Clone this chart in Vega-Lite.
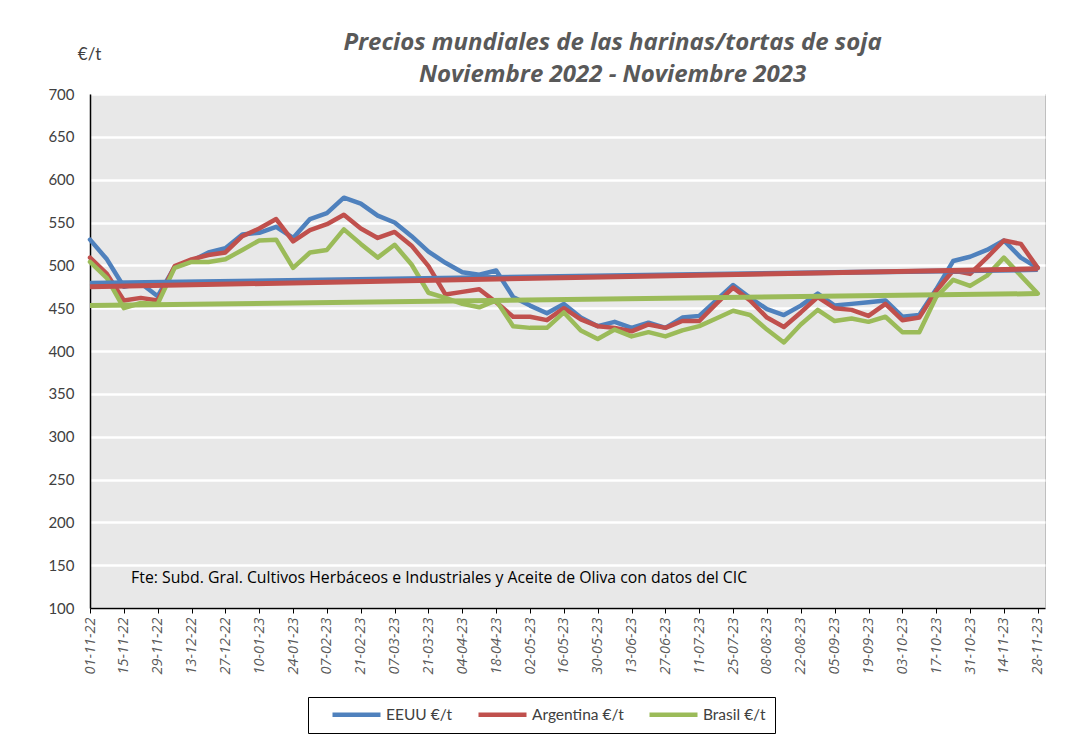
{
  "$schema": "https://vega.github.io/schema/vega-lite/v6.json",
  "width": 955,
  "height": 514,
  "autosize": {"type": "none"},
  "padding": {"left": 90, "top": 94, "right": 29, "bottom": 141},
  "background": "white",
  "config": {
    "font": "Lato",
    "view": {"fill": "#e8e8e8", "stroke": "#bfbfbf", "strokeWidth": 1}
  },
  "title": {
    "text": ["Precios mundiales de las harinas/tortas de soja", "Noviembre 2022 - Noviembre 2023"],
    "fontSize": 24,
    "fontStyle": "italic",
    "fontWeight": "bold",
    "color": "#595959",
    "font": "Open Sans",
    "lineHeight": 32,
    "anchor": "middle",
    "dx": 45,
    "dy": 50,
    "offset": 8
  },
  "datasets": {
    "precios": [
      {"d": "2022-11-01", "EEUU €/t": 530, "Argentina €/t": 509, "Brasil €/t": 504},
      {"d": "2022-11-08", "EEUU €/t": 507, "Argentina €/t": 490, "Brasil €/t": 485},
      {"d": "2022-11-15", "EEUU €/t": 475, "Argentina €/t": 459, "Brasil €/t": 450},
      {"d": "2022-11-22", "EEUU €/t": 479, "Argentina €/t": 462, "Brasil €/t": 456},
      {"d": "2022-11-29", "EEUU €/t": 464, "Argentina €/t": 459, "Brasil €/t": 455},
      {"d": "2022-12-06", "EEUU €/t": 498, "Argentina €/t": 499, "Brasil €/t": 497},
      {"d": "2022-12-13", "EEUU €/t": 505, "Argentina €/t": 507, "Brasil €/t": 504},
      {"d": "2022-12-20", "EEUU €/t": 515, "Argentina €/t": 512, "Brasil €/t": 504},
      {"d": "2022-12-27", "EEUU €/t": 520, "Argentina €/t": 515, "Brasil €/t": 507},
      {"d": "2023-01-03", "EEUU €/t": 536, "Argentina €/t": 534, "Brasil €/t": 518},
      {"d": "2023-01-10", "EEUU €/t": 538, "Argentina €/t": 543, "Brasil €/t": 529},
      {"d": "2023-01-17", "EEUU €/t": 545, "Argentina €/t": 554, "Brasil €/t": 530},
      {"d": "2023-01-24", "EEUU €/t": 532, "Argentina €/t": 528, "Brasil €/t": 497},
      {"d": "2023-01-31", "EEUU €/t": 554, "Argentina €/t": 541, "Brasil €/t": 515},
      {"d": "2023-02-07", "EEUU €/t": 561, "Argentina €/t": 548, "Brasil €/t": 518},
      {"d": "2023-02-14", "EEUU €/t": 579, "Argentina €/t": 559, "Brasil €/t": 542},
      {"d": "2023-02-21", "EEUU €/t": 572, "Argentina €/t": 543, "Brasil €/t": 525},
      {"d": "2023-02-28", "EEUU €/t": 558, "Argentina €/t": 532, "Brasil €/t": 509},
      {"d": "2023-03-07", "EEUU €/t": 550, "Argentina €/t": 539, "Brasil €/t": 524},
      {"d": "2023-03-14", "EEUU €/t": 534, "Argentina €/t": 523, "Brasil €/t": 501},
      {"d": "2023-03-21", "EEUU €/t": 516, "Argentina €/t": 499, "Brasil €/t": 468},
      {"d": "2023-03-28", "EEUU €/t": 503, "Argentina €/t": 466, "Brasil €/t": 462},
      {"d": "2023-04-04", "EEUU €/t": 492, "Argentina €/t": 469, "Brasil €/t": 455},
      {"d": "2023-04-11", "EEUU €/t": 489, "Argentina €/t": 472, "Brasil €/t": 451},
      {"d": "2023-04-18", "EEUU €/t": 494, "Argentina €/t": 457, "Brasil €/t": 459},
      {"d": "2023-04-25", "EEUU €/t": 463, "Argentina €/t": 440, "Brasil €/t": 429},
      {"d": "2023-05-02", "EEUU €/t": 453, "Argentina €/t": 440, "Brasil €/t": 427},
      {"d": "2023-05-09", "EEUU €/t": 444, "Argentina €/t": 436, "Brasil €/t": 427},
      {"d": "2023-05-16", "EEUU €/t": 455, "Argentina €/t": 450, "Brasil €/t": 445},
      {"d": "2023-05-23", "EEUU €/t": 439, "Argentina €/t": 437, "Brasil €/t": 424},
      {"d": "2023-05-30", "EEUU €/t": 429, "Argentina €/t": 429, "Brasil €/t": 414},
      {"d": "2023-06-06", "EEUU €/t": 434, "Argentina €/t": 427, "Brasil €/t": 425},
      {"d": "2023-06-13", "EEUU €/t": 427, "Argentina €/t": 423, "Brasil €/t": 417},
      {"d": "2023-06-20", "EEUU €/t": 433, "Argentina €/t": 431, "Brasil €/t": 422},
      {"d": "2023-06-27", "EEUU €/t": 427, "Argentina €/t": 427, "Brasil €/t": 417},
      {"d": "2023-07-04", "EEUU €/t": 439, "Argentina €/t": 435, "Brasil €/t": 424},
      {"d": "2023-07-11", "EEUU €/t": 441, "Argentina €/t": 435, "Brasil €/t": 429},
      {"d": "2023-07-18", "EEUU €/t": 459, "Argentina €/t": 455, "Brasil €/t": 438},
      {"d": "2023-07-25", "EEUU €/t": 477, "Argentina €/t": 474, "Brasil €/t": 447},
      {"d": "2023-08-01", "EEUU €/t": 462, "Argentina €/t": 459, "Brasil €/t": 442},
      {"d": "2023-08-08", "EEUU €/t": 449, "Argentina €/t": 439, "Brasil €/t": 425},
      {"d": "2023-08-15", "EEUU €/t": 442, "Argentina €/t": 428, "Brasil €/t": 410},
      {"d": "2023-08-22", "EEUU €/t": 453, "Argentina €/t": 445, "Brasil €/t": 431},
      {"d": "2023-08-29", "EEUU €/t": 467, "Argentina €/t": 463, "Brasil €/t": 448},
      {"d": "2023-09-05", "EEUU €/t": 453, "Argentina €/t": 450, "Brasil €/t": 435},
      {"d": "2023-09-12", "EEUU €/t": 455, "Argentina €/t": 448, "Brasil €/t": 438},
      {"d": "2023-09-19", "EEUU €/t": 457, "Argentina €/t": 441, "Brasil €/t": 434},
      {"d": "2023-09-26", "EEUU €/t": 459, "Argentina €/t": 455, "Brasil €/t": 440},
      {"d": "2023-10-03", "EEUU €/t": 440, "Argentina €/t": 436, "Brasil €/t": 422},
      {"d": "2023-10-10", "EEUU €/t": 442, "Argentina €/t": 439, "Brasil €/t": 422},
      {"d": "2023-10-17", "EEUU €/t": 472, "Argentina €/t": 470, "Brasil €/t": 463},
      {"d": "2023-10-24", "EEUU €/t": 505, "Argentina €/t": 494, "Brasil €/t": 483},
      {"d": "2023-10-31", "EEUU €/t": 510, "Argentina €/t": 490, "Brasil €/t": 476},
      {"d": "2023-11-07", "EEUU €/t": 518, "Argentina €/t": 509, "Brasil €/t": 488},
      {"d": "2023-11-14", "EEUU €/t": 529, "Argentina €/t": 529, "Brasil €/t": 509},
      {"d": "2023-11-21", "EEUU €/t": 509, "Argentina €/t": 525, "Brasil €/t": 488},
      {"d": "2023-11-28", "EEUU €/t": 497, "Argentina €/t": 497, "Brasil €/t": 467}
    ],
    "tendencia": [
      {"d": "2022-11-01", "serie": "EEUU €/t", "valor": 479},
      {"d": "2023-11-28", "serie": "EEUU €/t", "valor": 495},
      {"d": "2022-11-01", "serie": "Argentina €/t", "valor": 475},
      {"d": "2023-11-28", "serie": "Argentina €/t", "valor": 496},
      {"d": "2022-11-01", "serie": "Brasil €/t", "valor": 453},
      {"d": "2023-11-28", "serie": "Brasil €/t", "valor": 467}
    ],
    "nota": [
      {"d": "2022-11-18", "valor": 135, "texto": "Fte: Subd. Gral. Cultivos Herbáceos e Industriales y Aceite de Oliva con datos del CIC"}
    ]
  },
  "encoding": {
    "x": {
      "field": "d",
      "type": "temporal",
      "scale": {
        "type": "utc",
        "domain": [{"year": 2022, "month": 11, "date": 1, "utc": true}, {"year": 2023, "month": 12, "date": 1, "utc": true}]
      },
      "axis": {
        "title": null,
        "format": "%d-%m-%y",
        "formatType": "utc",
        "labelExpr": "utcFormat(datum.value, '%d-%m-%y')",
        "values": [
          {"year": 2022, "month": 11, "date": 1, "utc": true},
          {"year": 2022, "month": 11, "date": 15, "utc": true},
          {"year": 2022, "month": 11, "date": 29, "utc": true},
          {"year": 2022, "month": 12, "date": 13, "utc": true},
          {"year": 2022, "month": 12, "date": 27, "utc": true},
          {"year": 2023, "month": 1, "date": 10, "utc": true},
          {"year": 2023, "month": 1, "date": 24, "utc": true},
          {"year": 2023, "month": 2, "date": 7, "utc": true},
          {"year": 2023, "month": 2, "date": 21, "utc": true},
          {"year": 2023, "month": 3, "date": 7, "utc": true},
          {"year": 2023, "month": 3, "date": 21, "utc": true},
          {"year": 2023, "month": 4, "date": 4, "utc": true},
          {"year": 2023, "month": 4, "date": 18, "utc": true},
          {"year": 2023, "month": 5, "date": 2, "utc": true},
          {"year": 2023, "month": 5, "date": 16, "utc": true},
          {"year": 2023, "month": 5, "date": 30, "utc": true},
          {"year": 2023, "month": 6, "date": 13, "utc": true},
          {"year": 2023, "month": 6, "date": 27, "utc": true},
          {"year": 2023, "month": 7, "date": 11, "utc": true},
          {"year": 2023, "month": 7, "date": 25, "utc": true},
          {"year": 2023, "month": 8, "date": 8, "utc": true},
          {"year": 2023, "month": 8, "date": 22, "utc": true},
          {"year": 2023, "month": 9, "date": 5, "utc": true},
          {"year": 2023, "month": 9, "date": 19, "utc": true},
          {"year": 2023, "month": 10, "date": 3, "utc": true},
          {"year": 2023, "month": 10, "date": 17, "utc": true},
          {"year": 2023, "month": 10, "date": 31, "utc": true},
          {"year": 2023, "month": 11, "date": 14, "utc": true},
          {"year": 2023, "month": 11, "date": 28, "utc": true}
        ],
        "labelAngle": -90,
        "labelAlign": "right",
        "labelBaseline": "middle",
        "labelFont": "Open Sans",
        "labelFontSize": 14.5,
        "labelFontStyle": "italic",
        "labelColor": "#595959",
        "labelPadding": 4,
        "labelOverlap": false,
        "labelBound": false,
        "labelFlush": false,
        "ticks": true,
        "tickSize": 5,
        "tickColor": "#000000",
        "domainColor": "#000000",
        "domainWidth": 1.5,
        "grid": false
      }
    },
    "y": {
      "field": "valor",
      "type": "quantitative",
      "scale": {"domain": [100, 700], "nice": false, "zero": false},
      "axis": {
        "title": "€/t",
        "titleAngle": 0,
        "titleX": -1,
        "titleY": -40,
        "titleAlign": "center",
        "titleBaseline": "middle",
        "titleFontSize": 17,
        "titleFontWeight": "normal",
        "titleColor": "#404040",
        "values": [100, 150, 200, 250, 300, 350, 400, 450, 500, 550, 600, 650, 700],
        "labelFontSize": 15,
        "labelColor": "#404040",
        "labelPadding": 16,
        "ticks": false,
        "domainColor": "#000000",
        "domainWidth": 1.5,
        "grid": true,
        "gridColor": "#ffffff",
        "gridWidth": 2.5
      }
    },
    "color": {
      "field": "serie",
      "type": "nominal",
      "scale": {
        "domain": ["EEUU €/t", "Argentina €/t", "Brasil €/t"],
        "range": ["#4f81bd", "#c0504d", "#9bbb59"]
      },
      "legend": {
        "title": " ",
        "titleOrient": "left",
        "titleFontSize": 1,
        "titlePadding": 31,
        "orient": "none",
        "legendX": 218,
        "legendY": 603,
        "direction": "horizontal",
        "symbolType": "M-4,0H4",
        "symbolSize": 144,
        "symbolStrokeWidth": 4.5,
        "labelFontSize": 15.5,
        "labelColor": "#404040",
        "labelOffset": 21,
        "columnPadding": 16,
        "strokeColor": "#000000",
        "padding": 9,
        "fillColor": "#ffffff"
      }
    }
  },
  "layer": [
    {
      "data": {"name": "precios", "format": {"parse": {"d": "utc:'%Y-%m-%d'"}}},
      "transform": [
        {"fold": ["EEUU €/t", "Argentina €/t", "Brasil €/t"], "as": ["serie", "valor"]}
      ],
      "mark": {"type": "line", "strokeWidth": 4.5, "strokeJoin": "round", "strokeCap": "round"}
    },
    {
      "data": {"name": "tendencia", "format": {"parse": {"d": "utc:'%Y-%m-%d'"}}},
      "mark": {"type": "line", "strokeWidth": 5, "strokeCap": "butt"}
    },
    {
      "data": {"name": "nota", "format": {"parse": {"d": "utc:'%Y-%m-%d'"}}},
      "mark": {"type": "text", "align": "left", "baseline": "middle", "fontSize": 15.8, "color": "#000000", "font": "Open Sans"},
      "encoding": {
        "text": {"field": "texto", "type": "nominal"},
        "color": null
      }
    }
  ]
}
